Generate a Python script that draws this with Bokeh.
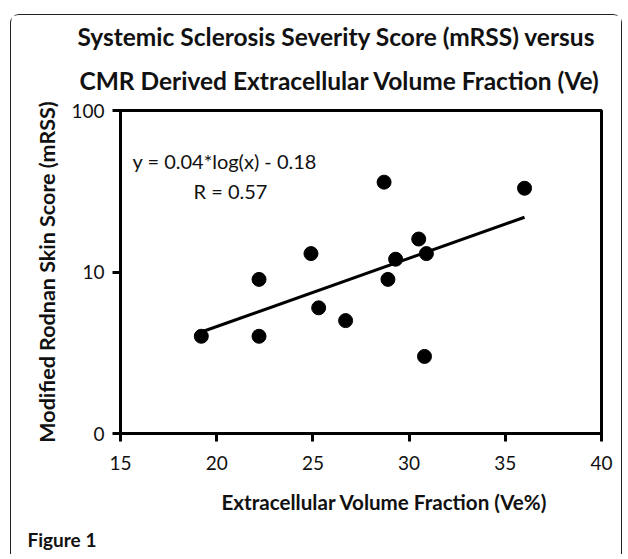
import numpy as np
from bokeh.plotting import figure
from bokeh.models import Range1d, FixedTicker, Label, Title
from bokeh.embed import file_html
from bokeh.resources import INLINE

# ---- data ----
ve_pct = [19.2, 22.2, 22.2, 24.9, 25.3, 26.7, 28.7, 28.9, 29.3, 30.5, 30.8, 30.9, 36.0]
mrss = [4, 4, 9, 13, 6, 5, 36, 9, 12, 16, 3, 13, 33]
x_ticks = [15, 20, 25, 30, 35, 40]
y_ticks = [1, 10, 100]
y_tick_labels = {1: "0", 10: "10", 100: "100"}
title_lines = ["Systemic Sclerosis Severity Score (mRSS) versus",
               "CMR Derived Extracellular Volume Fraction (Ve)"]
x_label = "Extracellular Volume Fraction (Ve%)"
y_label = "Modified Rodnan Skin Score (mRSS)"
fig_label = "Figure 1"
eq_text = "y = 0.04*log(x) - 0.18"
r_text = "R = 0.57"

# fitted trend (log10 y linear in x)
b, a = np.polyfit(ve_pct, np.log10(mrss), 1)
fit_x = [min(ve_pct), max(ve_pct)]
fit_y = [10 ** (a + b * v) for v in fit_x]

W, H = 612, 540
FONT = "Lato"
INK = "#111111"

p = figure(width=W, height=H, output_backend="svg", toolbar_location=None,
           x_range=Range1d(15, 40), y_range=Range1d(1, 100), y_axis_type="log",
           min_border_left=109, min_border_right=22, min_border_top=95, min_border_bottom=122)
p.styles = {"border": "1.5px solid #222", "border-bottom": "none",
            "border-radius": "9px 9px 0 0", "margin-left": "10px", "margin-top": "14px"}

p.grid.visible = False
p.outline_line_color = "black"
p.outline_line_width = 3
p.background_fill_color = "white"
p.border_fill_color = "white"

for ax in (p.xaxis[0], p.yaxis[0]):
    ax.axis_line_width = 3
    ax.axis_line_color = "black"
    ax.major_tick_line_width = 3
    ax.major_tick_line_color = "black"
    ax.major_tick_out = 8
    ax.major_tick_in = 0
    ax.minor_tick_line_color = None
    ax.major_label_text_font = FONT
    ax.major_label_text_font_size = "19px"
    ax.major_label_text_color = INK

p.xaxis.ticker = FixedTicker(ticks=x_ticks)
p.xaxis.major_label_standoff = 14
p.yaxis.ticker = FixedTicker(ticks=y_ticks)
p.yaxis.major_label_overrides = y_tick_labels
p.yaxis.major_label_standoff = 8

p.yaxis.axis_label = y_label
p.yaxis.axis_label_text_font = FONT
p.yaxis.axis_label_text_font_style = "bold"
p.yaxis.axis_label_text_font_size = "21.5px"
p.yaxis.axis_label_text_color = INK
p.yaxis.axis_label_standoff = 8

p.line(fit_x, fit_y, line_color="black", line_width=3)
p.scatter(ve_pct, mrss, size=14, fill_color="black", line_color="black")

def title(text, place, size, offset, standoff, bold=True):
    p.add_layout(Title(text=text, align="left", offset=offset, standoff=standoff,
                       text_font=FONT, text_font_size=size,
                       text_font_style="bold" if bold else "normal",
                       text_color=INK), place)

title(title_lines[1], "above", "24.5px", -41, 32)
title(title_lines[0], "above", "24.5px", -43, -6)
title(x_label, "below", "20.6px", 101, 31)
title(fig_label, "below", "19px", -93, -7)

def lab(x, y, text, size, align):
    p.add_layout(Label(x=x, y=y, x_units="screen", y_units="screen", text=text,
                       text_font=FONT, text_font_size=size, text_align=align,
                       text_baseline="middle", text_color=INK))

lab(12, 273, eq_text, "20px", "left")
lab(110, 243, r_text, "20px", "center")

open("out.html", "w").write(file_html(p, INLINE))
